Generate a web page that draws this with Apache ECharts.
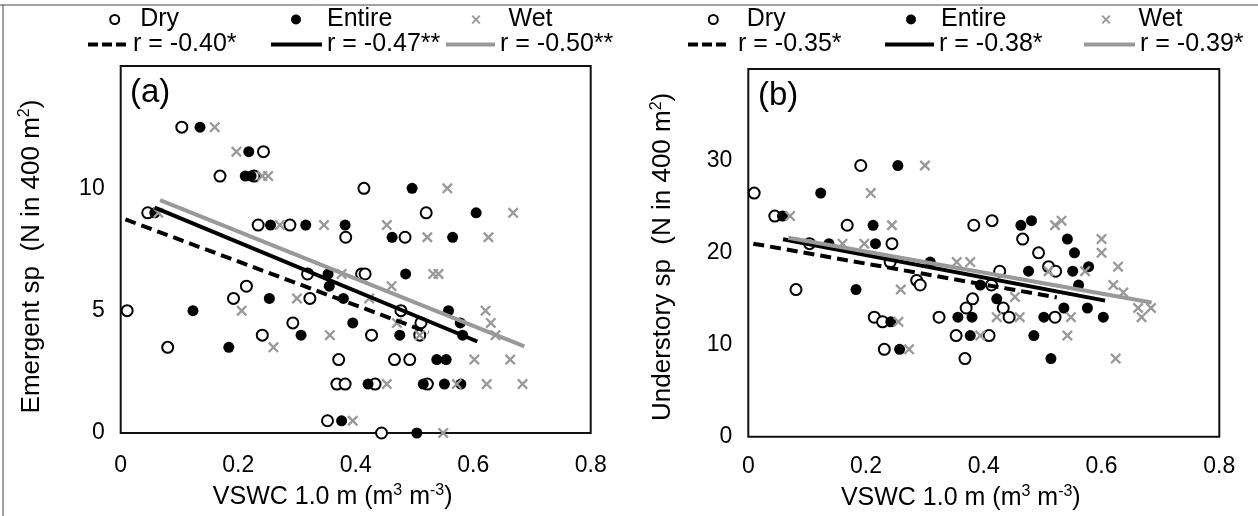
<!DOCTYPE html>
<html><head><meta charset="utf-8">
<script src="https://cdn.jsdelivr.net/npm/echarts@6/dist/echarts.min.js"></script>
<style>html,body{margin:0;padding:0;background:#fff}#c{width:1258px;height:516px}</style>
</head><body><div id="c"></div><script>
// ---------- data (x = VSWC 1.0 m, y = species count) ----------
const seriesNames = ['Dry', 'Entire', 'Wet'];
const rLabelsA = ['r = -0.40*', 'r = -0.47**', 'r = -0.50**'];
const rLabelsB = ['r = -0.35*', 'r = -0.38*', 'r = -0.39*'];
const xTicks = [0, 0.2, 0.4, 0.6, 0.8];
const yTicksA = [0, 5, 10, 15];
const yTicksB = [0, 10, 20, 30, 40];

const emergentDry = [[0.104,12.5],[0.243,11.5],[0.169,10.5],[0.227,10.5],[0.414,10],[0.046,9],[0.520,9],[0.234,8.5],[0.288,8.5],[0.383,8],[0.484,8],[0.318,6.5],[0.410,6.5],[0.416,6.5],[0.214,6],[0.192,5.5],[0.322,5.5],[0.011,5],[0.477,5],[0.293,4.5],[0.511,4.5],[0.241,4],[0.427,4],[0.509,4],[0.080,3.5],[0.371,3],[0.466,3],[0.492,3],[0.368,2],[0.382,2],[0.433,2],[0.522,2],[0.352,0.5],[0.444,0]];
const emergentEntire = [[0.135,12.5],[0.218,11.5],[0.212,10.5],[0.222,10.5],[0.496,10],[0.058,9],[0.605,9],[0.255,8.5],[0.315,8.5],[0.382,8.5],[0.462,8],[0.565,8],[0.353,6.5],[0.485,6.5],[0.355,6],[0.253,5.5],[0.379,5.5],[0.123,5],[0.558,5],[0.395,4.5],[0.578,4.5],[0.307,4],[0.475,4],[0.582,4],[0.184,3.5],[0.538,3],[0.554,3],[0.421,2],[0.515,2],[0.551,2],[0.579,2],[0.376,0.5],[0.504,0]];
const emergentWet = [[0.160,12.5],[0.197,11.5],[0.241,10.5],[0.251,10.5],[0.556,10],[0.064,9],[0.668,9],[0.271,8.5],[0.346,8.5],[0.453,8.5],[0.522,8],[0.626,8],[0.376,6.5],[0.532,6.5],[0.541,6.5],[0.461,6],[0.300,5.5],[0.423,5.5],[0.206,5],[0.621,5],[0.470,4.5],[0.630,4.5],[0.356,4],[0.509,4],[0.638,4],[0.260,3.5],[0.602,3],[0.663,3],[0.453,2],[0.572,2],[0.623,2],[0.684,2],[0.395,0.5],[0.549,0]];
const emergentFitDry = [[0.008,8.73],[0.524,4.11]];
const emergentFitEntire = [[0.058,9.21],[0.607,3.74]];
const emergentFitWet = [[0.067,9.52],[0.687,3.54]];

const understoryDry = [[0.191,29.5],[0.010,26.5],[0.045,24],[0.414,23.5],[0.168,23],[0.383,23],[0.466,21.5],[0.104,21],[0.244,21],[0.493,20],[0.241,19],[0.510,18.5],[0.427,18],[0.522,18],[0.286,17],[0.292,16.5],[0.413,16.5],[0.081,16],[0.381,15],[0.370,14],[0.433,14],[0.214,13],[0.324,13],[0.443,13],[0.521,13],[0.228,12.5],[0.353,11],[0.409,11],[0.231,9.5],[0.368,8.5]];
const understoryEntire = [[0.254,29.5],[0.123,26.5],[0.058,24],[0.481,23.5],[0.212,23],[0.463,23],[0.542,21.5],[0.137,21],[0.216,21],[0.554,20],[0.309,19],[0.578,18.5],[0.476,18],[0.551,18],[0.394,16.5],[0.561,16.5],[0.183,16],[0.422,15],[0.536,14],[0.576,14],[0.356,13],[0.380,13],[0.502,13],[0.603,13],[0.242,12.5],[0.377,11],[0.485,11],[0.257,9.5],[0.514,8.5]];
const understoryWet = [[0.300,29.5],[0.208,26.5],[0.071,24],[0.532,23.5],[0.244,23],[0.521,23],[0.600,21.5],[0.160,21],[0.197,21],[0.600,20],[0.354,19],[0.377,19],[0.628,18.5],[0.510,18],[0.572,18],[0.620,16.5],[0.637,15.7],[0.259,16],[0.453,15.2],[0.662,14],[0.684,14],[0.422,13],[0.461,13],[0.548,13],[0.668,13],[0.255,12.5],[0.394,11],[0.542,11],[0.273,9.5],[0.624,8.5]];
const understoryFitDry = [[0.0085,21.0],[0.524,15.15]];
const understoryFitEntire = [[0.059,21.47],[0.606,14.8]];
const understoryFitWet = [[0.068,21.65],[0.685,14.6]];

// ---------- styling ----------
const FONT = "'Liberation Sans', Arial, sans-serif";
const GRAY = '#999999';
const CROSS = 'path://M0,1.5L1.5,0L10,8.5L8.5,10Z M8.5,0L10,1.5L1.5,10L0,8.5Z';
const DASH_ICON = 'path://M0,0h10v4h-10z M14,0h10v4h-10z M28,0h10v4h-10z';

const chart = echarts.init(document.getElementById('c'), null, {renderer: 'canvas'});

function richTitle(size, padding) {
  return {padding: padding, rich: {
    t: {fontSize: size, fontFamily: FONT, color: '#000', lineHeight: size + 4},
    s: {fontSize: Math.round(size * 0.62), fontFamily: FONT, color: '#000', verticalAlign: 'top', lineHeight: Math.round(size * 0.62)}
  }};
}
function xAxisCfg(gi, margin, nameGap) {
  return {
    gridIndex: gi, type: 'value', min: xTicks[0], max: xTicks[xTicks.length - 1], interval: xTicks[1] - xTicks[0],
    axisLine: {show: false}, axisTick: {show: false}, splitLine: {show: false},
    axisLabel: {fontSize: 23, color: '#000', fontFamily: FONT, margin: margin,
      formatter: v => String(+v.toFixed(1))},
    name: '{t|VSWC 1.0 m (m}{s|3}{t| m}{s|-3}{t|)}', nameLocation: 'middle', nameGap: nameGap,
    nameTextStyle: richTitle(25, [0, 46, 0, 0])
  };
}
function yAxisCfg(gi, ticks, label, nameGap, shift) {
  return {
    gridIndex: gi, type: 'value', min: ticks[0], max: ticks[ticks.length - 1], interval: ticks[1] - ticks[0],
    axisLine: {show: false}, axisTick: {show: false}, splitLine: {show: false},
    axisLabel: {fontSize: 23, color: '#000', fontFamily: FONT, margin: 16, showMaxLabel: false},
    name: '{t|' + label + '  (N in 400 m}{s|2}{t|)}', nameLocation: 'middle', nameGap: nameGap,
    nameTextStyle: richTitle(26, [0, shift, 0, 0])
  };
}
function scatterSeries(gi, name, data) {
  const base = {type: 'scatter', xAxisIndex: gi, yAxisIndex: gi, name: name, data: data, symbolSize: 11, z: 3};
  if (name === 'Dry') return Object.assign(base, {symbol: 'emptyCircle', itemStyle: {color: '#000', borderColor: '#000', borderWidth: 2, opacity: 1}});
  if (name === 'Entire') return Object.assign(base, {symbol: 'circle', itemStyle: {color: '#000', opacity: 1}});
  return Object.assign(base, {symbol: CROSS, itemStyle: {color: GRAY, opacity: 1}});
}
function fitSeries(gi, name, data, color, dashed) {
  return {type: 'line', xAxisIndex: gi, yAxisIndex: gi, name: name, data: data, symbol: 'none', z: 5,
    itemStyle: {color: color},
    lineStyle: {color: color, width: 4, type: dashed ? [11, 6] : 'solid', cap: 'butt'}};
}
function legendItem(left, top, name, icon, color, w, h, pad) {
  return {left: left, top: top, padding: 0, itemWidth: w, itemHeight: h, selectedMode: false,
    data: [{name: name, icon: icon, itemStyle: {color: color, borderColor: color, opacity: 1}}],
    textStyle: {fontSize: 25, fontFamily: FONT, color: '#000', padding: [0, 0, 0, pad]}};
}

const R1 = 7, R2 = 32;
const option = {
  backgroundColor: '#fff',
  animation: false,
  grid: [
    {left: 120.7, top: 66, width: 470, height: 367, show: true, borderColor: '#111', borderWidth: 2, backgroundColor: 'transparent'},
    {left: 748.3, top: 69, width: 471, height: 367.7, show: true, borderColor: '#111', borderWidth: 2, backgroundColor: 'transparent'}
  ],
  xAxis: [xAxisCfg(0, 21, 50), xAxisCfg(1, 18, 47)],
  yAxis: [yAxisCfg(0, yTicksA, 'Emergent sp', 74, 14), yAxisCfg(1, yTicksB, 'Understory sp', 70, 8)],
  legend: [
    legendItem(109.2, R1, seriesNames[0], 'emptyCircle', '#000', 9, 9, 16),
    legendItem(291, R1, seriesNames[1], 'circle', '#000', 10, 10, 21),
    legendItem(471.5, R1, seriesNames[2], CROSS, GRAY, 9, 9, 23),
    legendItem(88, R2, rLabelsA[0], DASH_ICON, '#000', 42, 4, 0),
    legendItem(271, R2, rLabelsA[1], 'rect', '#000', 51, 4, 0),
    legendItem(446, R2, rLabelsA[2], 'rect', GRAY, 49, 4, 0),
    legendItem(707.8, R1, seriesNames[0], 'emptyCircle', '#000', 9, 9, 24),
    legendItem(906, R1, seriesNames[1], 'circle', '#000', 10, 10, 20),
    legendItem(1101.5, R1, seriesNames[2], CROSS, GRAY, 9, 9, 23),
    legendItem(688, R2, rLabelsB[0], DASH_ICON, '#000', 48, 4, 2),
    legendItem(885, R2, rLabelsB[1], 'rect', '#000', 49, 4, 0),
    legendItem(1084, R2, rLabelsB[2], 'rect', GRAY, 51, 4, 0)
  ],
  graphic: [
    {type: 'line', shape: {x1: 0, y1: 5, x2: 1258, y2: 5}, style: {stroke: '#444', lineWidth: 1}},
    {type: 'line', shape: {x1: 3, y1: 5, x2: 3, y2: 516}, style: {stroke: '#444', lineWidth: 1}},
    {type: 'text', left: 130, top: 76, style: {text: '(a)', fontSize: 33, fontFamily: FONT, fill: '#000'}},
    {type: 'text', left: 758, top: 79, style: {text: '(b)', fontSize: 33, fontFamily: FONT, fill: '#000'}}
  ],
  series: [
    scatterSeries(0, 'Dry', emergentDry),
    scatterSeries(0, 'Entire', emergentEntire),
    scatterSeries(0, 'Wet', emergentWet),
    fitSeries(0, rLabelsA[0], emergentFitDry, '#000', true),
    fitSeries(0, rLabelsA[1], emergentFitEntire, '#000', false),
    fitSeries(0, rLabelsA[2], emergentFitWet, GRAY, false),
    scatterSeries(1, 'Dry', understoryDry),
    scatterSeries(1, 'Entire', understoryEntire),
    scatterSeries(1, 'Wet', understoryWet),
    fitSeries(1, rLabelsB[0], understoryFitDry, '#000', true),
    fitSeries(1, rLabelsB[1], understoryFitEntire, '#000', false),
    fitSeries(1, rLabelsB[2], understoryFitWet, GRAY, false)
  ]
};
chart.setOption(option);
</script></body></html>
